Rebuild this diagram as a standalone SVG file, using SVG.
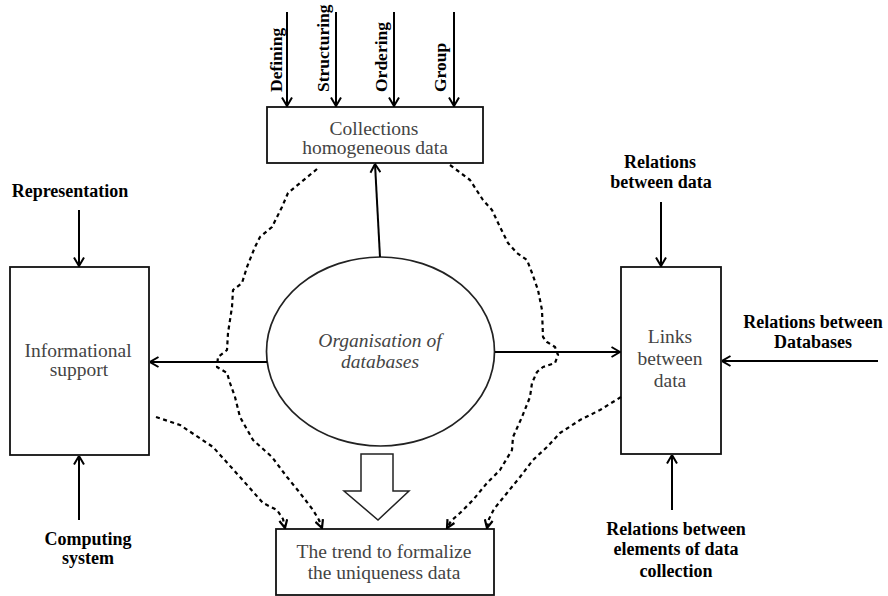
<svg xmlns="http://www.w3.org/2000/svg" width="888" height="596" viewBox="0 0 888 596">
  <style>
    .box { fill: #fff; stroke: #111; stroke-width: 1.8; }
    .oval { fill: #fff; stroke: #222; stroke-width: 1.7; }
    .inner { font-family: "Liberation Serif", "Times New Roman", serif; font-size: 19.5px; fill: #444; text-anchor: middle; }
    .ital { font-style: italic; }
    .label { font-family: "Liberation Serif", "Times New Roman", serif; font-size: 18px; font-weight: bold; fill: #000; text-anchor: middle; }
    .vlabel { font-family: "Liberation Serif", "Times New Roman", serif; font-size: 17.5px; font-weight: bold; fill: #000; }
    .flow { fill: none; stroke: #000; stroke-width: 2; marker-end: url(#arrow); }
    .dash { fill: none; stroke: #000; stroke-width: 2.2; stroke-dasharray: 4 3.5; stroke-linejoin: round; marker-end: url(#darrow); }
  </style>
  <defs>
    <marker id="arrow" viewBox="0 0 10 12" refX="9.5" refY="6" markerWidth="10" markerHeight="12" markerUnits="userSpaceOnUse" orient="auto">
      <path d="M1,1 L9.5,6 L1,11" fill="none" stroke="#000" stroke-width="2"/>
    </marker>
    <marker id="darrow" viewBox="0 0 10 10" refX="9" refY="5" markerWidth="10" markerHeight="10" markerUnits="userSpaceOnUse" orient="auto">
      <path d="M1,1 L9,5 L1,9" fill="none" stroke="#000" stroke-width="2.2"/>
    </marker>
  </defs>

  <!-- top inputs -->
  <g id="top-labels">
    <text class="vlabel" transform="translate(282,92) rotate(-90)">Defining</text>
    <text class="vlabel" transform="translate(329,92) rotate(-90)">Structuring</text>
    <text class="vlabel" transform="translate(387,92) rotate(-90)">Ordering</text>
    <text class="vlabel" transform="translate(446,92) rotate(-90)">Group</text>
  </g>

  <g id="collections">
    <rect class="box" x="267" y="107" width="216" height="56"/>
    <text class="inner" x="374" y="135">Collections</text>
    <text class="inner" x="375" y="154">homogeneous data</text>
  </g>

  <g id="informational-support">
    <rect class="box" x="10" y="267" width="139" height="188"/>
    <text class="inner" x="78" y="357">Informational</text>
    <text class="inner" x="79" y="376">support</text>
  </g>

  <g id="organisation">
    <ellipse class="oval" cx="380.5" cy="351.5" rx="114" ry="94.5"/>
    <text class="inner ital" x="380" y="347">Organisation of</text>
    <text class="inner ital" x="380" y="368">databases</text>
  </g>

  <g id="links">
    <rect class="box" x="621" y="267" width="100" height="187"/>
    <text class="inner" x="670" y="343">Links</text>
    <text class="inner" x="670" y="365">between</text>
    <text class="inner" x="670" y="387">data</text>
  </g>

  <g id="trend">
    <rect class="box" x="276" y="529" width="218" height="66"/>
    <text class="inner" x="384" y="558">The trend to formalize</text>
    <text class="inner" x="384" y="579">the uniqueness data</text>
  </g>

  <g id="side-labels">
    <text class="label" x="70" y="197">Representation</text>
    <text class="label" x="88" y="545">Computing</text>
    <text class="label" x="88" y="564">system</text>
    <text class="label" x="660" y="168">Relations</text>
    <text class="label" x="661" y="188">between data</text>
    <text class="label" x="813" y="328">Relations between</text>
    <text class="label" x="813" y="348">Databases</text>
    <text class="label" x="676" y="535">Relations between</text>
    <text class="label" x="676" y="555">elements of data</text>
    <text class="label" x="676" y="577">collection</text>
  </g>

  <!-- hollow block arrow below the oval -->
  <g id="block-arrow">
    <polygon points="361,454 393,454 393,491 409,491 378,520 344,491 361,491" fill="#fff" stroke="#222" stroke-width="1.5"/>
  </g>

  <g id="connectors">
    <line class="flow" x1="287" y1="12" x2="287" y2="106"/>
    <line class="flow" x1="336" y1="12" x2="336" y2="106"/>
    <line class="flow" x1="394" y1="12" x2="394" y2="106"/>
    <line class="flow" x1="454" y1="12" x2="454" y2="106"/>
    <line class="flow" x1="79" y1="210" x2="79" y2="266"/>
    <line class="flow" x1="79" y1="520" x2="79" y2="456"/>
    <line class="flow" x1="267" y1="362" x2="150" y2="362"/>
    <line class="flow" x1="380" y1="257" x2="375" y2="164"/>
    <line class="flow" x1="495" y1="352" x2="620" y2="352"/>
    <line class="flow" x1="661" y1="202" x2="661" y2="266"/>
    <line class="flow" x1="878" y1="361" x2="722" y2="361"/>
    <line class="flow" x1="672" y1="510" x2="672" y2="455"/>

    <polyline class="dash" points="317,169 300,183 288,193 282,207 272,227 260,237 255,247 247,267 242,283 233,290 232,307 228,333 227,350 218,357 217,367 227,373 230,383 235,397 240,417 253,440 272,457 287,477 300,493 313,510 319,520 322,528"/>
    <polyline class="dash" points="156,417 180,425 213,447 240,477 263,503 277,510 283,519 285,528"/>
    <polyline class="dash" points="450,165 470,180 483,200 492,210 500,227 508,243 517,253 527,260 532,273 538,290 542,310 543,337 547,342 555,347 558,355 555,363 543,367 537,372 532,383 530,397 522,417 513,437 512,450 500,470 487,483 473,500 460,513 451,521 447,528"/>
    <polyline class="dash" points="621,397 600,410 580,420 560,433 547,447 533,460 520,477 507,493 494,509 489,519 487,528"/>
  </g>
</svg>
